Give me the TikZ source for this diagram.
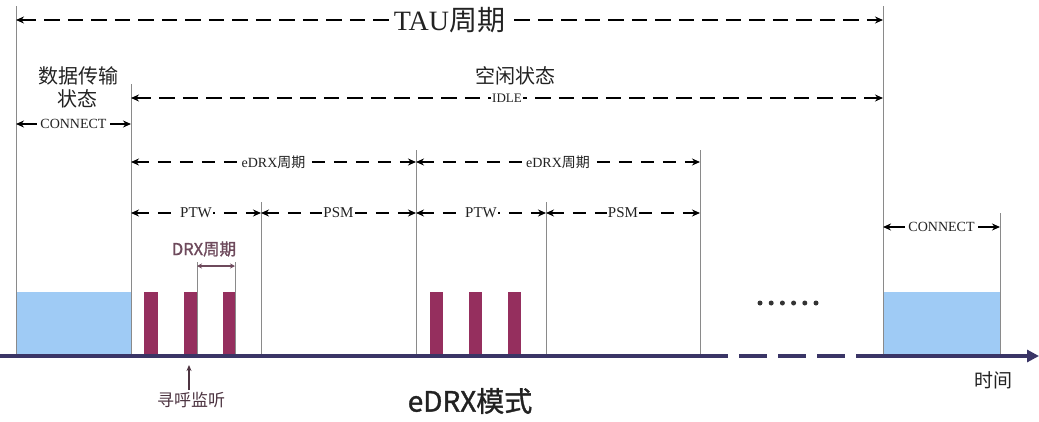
\documentclass[tikz,border=0pt]{standalone}
\usepackage{fontspec}
\setmainfont{Liberation Serif}
\newfontfamily\cjk{Noto Sans CJK SC}
\newfontfamily\cjkb{Noto Sans CJK SC}[FakeBold=1.2]
\usetikzlibrary{arrows.meta,calc}
\definecolor{gline}{HTML}{8A8A8A}
\definecolor{blueblk}{HTML}{9FCBF5}
\definecolor{barcol}{HTML}{952F5E}
\definecolor{axiscol}{HTML}{3A3566}
\definecolor{drxcol}{HTML}{6E4A5C}
\definecolor{txtcol}{HTML}{222222}
\newcommand{\fs}[1]{\fontsize{#1}{#1}\selectfont}
\begin{document}
\begin{tikzpicture}[x=1pt,y=-1pt,
  vline/.style={draw=gline, line width=0.8pt},
  darr/.style={line width=2.5pt, dash pattern=on 13pt off 9pt,
     {Stealth[length=8pt,width=7pt]}-{Stealth[length=8pt,width=7pt]}},
  darrlong/.style={darr, line width=2.7pt, dash pattern=on 15.5pt off 8pt},
  sarr/.style={line width=2pt,
     {Stealth[length=8pt,width=7pt]}-{Stealth[length=8pt,width=7pt]}},
  lbl/.style={fill=white, inner sep=1.5pt, text=txtcol, font=\fs{14}},
  cjklbl/.style={text=txtcol, inner sep=0pt},
  bluebox/.style={fill=blueblk, draw=none},
  bar/.style={fill=barcol, draw=none},
  axisline/.style={draw=axiscol, line width=3.8pt}
]
\useasboundingbox (0,0) rectangle (1039,421);

% blue data blocks
\fill[bluebox] (16,292) rectangle (131,356);
\fill[bluebox] (883,292) rectangle (1000,356);

% DRX bars
\foreach \a/\b in {144/158,184/197,223/235,430/443,469/482,508/521}
  \fill[bar] (\a,292) rectangle (\b,356);

% vertical guide lines
\coordinate (Lt) at (16,6);     \coordinate (Lb) at (16,356);
\coordinate (At) at (131,84);   \coordinate (Ab) at (131,356);
\coordinate (Bt) at (261,202);  \coordinate (Bb) at (261,356);
\coordinate (Ct) at (416,150);  \coordinate (Cb) at (416,356);
\coordinate (Dt) at (546,202);  \coordinate (Db) at (546,356);
\coordinate (Et) at (700,150);  \coordinate (Eb) at (700,356);
\coordinate (Ft) at (883,6);    \coordinate (Fb) at (883,356);
\coordinate (Gt) at (1000,213); \coordinate (Gb) at (1000,356);
\coordinate (P1t) at (197,262); \coordinate (P1b) at (197,356);
\coordinate (P2t) at (235,262); \coordinate (P2b) at (235,356);
\foreach \n in {L,A,B,C,D,E,F,G,P1,P2}
  \draw[vline] (\n t) -- (\n b);

% TAU period
\coordinate (tau1) at (16,20); \coordinate (tau2) at (883,20);
\draw[darrlong] (tau1) -- (tau2)
  node[midway, fill=white, inner sep=1pt, text=txtcol] (taulbl)
  {\fs{28}TAU{\cjk 周期}};

% state titles
\node[cjklbl, font=\cjk\fs{20}] (datast) at (78,76) {数据传输};
\node[cjklbl, font=\cjk\fs{20}] (datast2) at (77,99) {状态};
\node[cjklbl, font=\cjk\fs{20}] (idlest) at (515,76) {空闲状态};

% IDLE
\coordinate (idle1) at (131,98); \coordinate (idle2) at (883,98);
\draw[darrlong] (idle1) -- (idle2) node[midway, lbl, font=\fs{13}] (idlelbl) {IDLE};

% CONNECT left
\coordinate (con1) at (16,124); \coordinate (con2) at (131,124);
\draw[sarr] (con1) -- (con2) node[midway, lbl, inner sep=3pt] (conlbl) {CONNECT};

% CONNECT right
\coordinate (con3) at (883,227); \coordinate (con4) at (1000,227);
\draw[sarr] (con3) -- (con4) node[midway, lbl, inner sep=3pt] (conlbl2) {CONNECT};

% eDRX periods
\coordinate (e1) at (131,162); \coordinate (e2) at (416,162); \coordinate (e3) at (700,162);
\draw[darr] (e1) -- (e2) node[midway, lbl, inner sep=1pt] (edrx1) {eDRX{\cjk 周期}};
\draw[darr] (e2) -- (e3) node[midway, lbl, inner sep=1pt] (edrx2) {eDRX{\cjk 周期}};

% PTW / PSM
\coordinate (p1) at (131,213); \coordinate (p2) at (261,213); \coordinate (p3) at (416,213);
\coordinate (p4) at (546,213); \coordinate (p5) at (700,213);
\draw[darr] (p1) -- (p2) node[midway, lbl, font=\fs{15}] (ptw1) {PTW};
\draw[darr] (p2) -- (p3) node[midway, lbl, font=\fs{15}, inner sep=1pt] (psm1) {PSM};
\draw[darr] (p3) -- (p4) node[midway, lbl, font=\fs{15}] (ptw2) {PTW};
\draw[darr] (p4) -- (p5) node[midway, lbl, font=\fs{15}, inner sep=1pt] (psm2) {PSM};

% DRX period
\node[inner sep=0pt, text=drxcol, font=\cjkb\fs{16.5}] (drxlbl) at (204,249) {DRX周期};
\coordinate (dr1) at (197,266); \coordinate (dr2) at (235,266);
\draw[drxcol, line width=1.3pt, {Stealth[length=5pt,width=5pt]}-{Stealth[length=5pt,width=5pt]}]
  (dr1) -- (dr2);

% dots
\foreach \i in {0,...,5}
  \fill[black!80] (760+\i*11.2,303) circle (2.5pt);

% time axis
\coordinate (ax0) at (0,356);
\coordinate (axa) at (728,356);
\coordinate (axa2) at (739,356);
\coordinate (axb) at (856,356);
\coordinate (axend) at (1039,356);
\draw[axisline] (ax0) -- (axa);
\draw[axisline, dash pattern=on 28pt off 11pt] (axa2) -- (axb);
\draw[axisline, -{Triangle[length=12pt,width=12pt]}] (axb) -- (axend);

% paging monitor
\node[inner sep=0pt, text=drxcol!70!black, font=\cjk\fs{17}] (paging) at (191,400) {寻呼监听};
\coordinate (pgtop) at (189,365);
\coordinate (pgbot) at (189,390);
\draw[drxcol!70!black, line width=1.4pt, -{Stealth[length=6pt,width=5pt]}] (pgbot) -- (pgtop);

% bottom labels
\node[inner sep=0pt, text=txtcol, font=\cjkb\fs{28}] (mode) at (470,401) {eDRX模式};
\node[inner sep=0pt, text=txtcol, font=\cjk\fs{19}] (time) at (993,380) {时间};
\end{tikzpicture}
\end{document}
